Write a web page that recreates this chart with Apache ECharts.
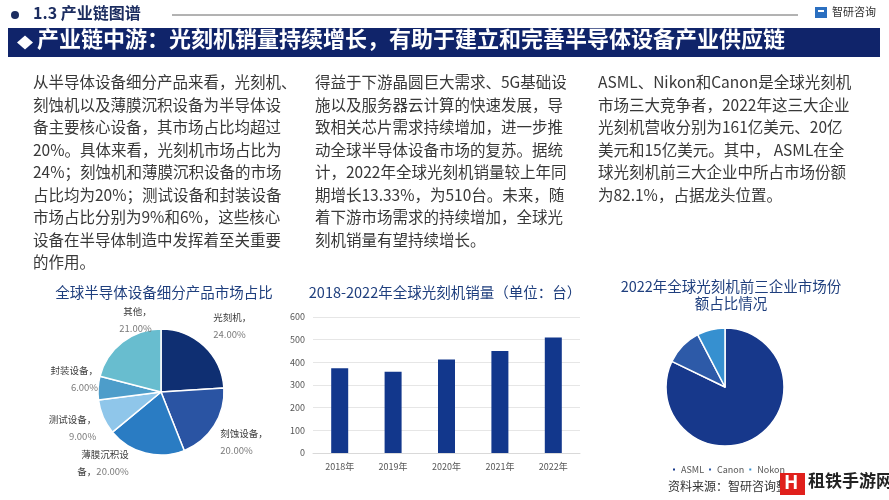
<!DOCTYPE html>
<html>
<head>
<meta charset="utf-8">
<script src="https://cdn.jsdelivr.net/npm/echarts@6/dist/echarts.min.js"></script>
<style>
html,body{margin:0;padding:0;background:#fff;}
#c{width:889px;height:500px;}
</style>
</head>
<body>
<div id="c"></div>
<script>
// ---- data ----
var segNames = ['光刻机', '刻蚀设备', '薄膜沉积设备', '测试设备', '封装设备', '其他'];
var segValues = [24, 20, 20, 9, 6, 21];
var segColors = ['#0f2f72', '#2a54a3', '#2a7cc3', '#8fc6ea', '#4d9dca', '#68bdcf'];

var years = ['2018年', '2019年', '2020年', '2021年', '2022年'];
var sales = [374, 359, 413, 450, 510];
var salesTicks = [0, 100, 200, 300, 400, 500, 600];

var firms = ['ASML', 'Canon', 'Nokon'];
var firmRevenue = [161, 20, 15];
var firmColors = ['#17388b', '#2d5aa8', '#3690d0'];

var textLeft = [
  '从半导体设备细分产品来看，光刻机、',
  '刻蚀机以及薄膜沉积设备为半导体设',
  '备主要核心设备，其市场占比均超过',
  '20%。具体来看，光刻机市场占比为',
  '24%；刻蚀机和薄膜沉积设备的市场',
  '占比均为20%；测试设备和封装设备',
  '市场占比分别为9%和6%，这些核心',
  '设备在半导体制造中发挥着至关重要',
  '的作用。'
];
var textMid = [
  '得益于下游晶圆巨大需求、5G基础设',
  '施以及服务器云计算的快速发展，导',
  '致相关芯片需求持续增加，进一步推',
  '动全球半导体设备市场的复苏。据统',
  '计，2022年全球光刻机销量较上年同',
  '期增长13.33%，为510台。未来，随',
  '着下游市场需求的持续增加，全球光',
  '刻机销量有望持续增长。'
];
var textRight = [
  'ASML、Nikon和Canon是全球光刻机',
  '市场三大竞争者，2022年这三大企业',
  '光刻机营收分别为161亿美元、20亿',
  '美元和15亿美元。其中， ASML在全',
  '球光刻机前三大企业中所占市场份额',
  '为82.1%，占据龙头位置。'
];

var FONT = '"Noto Sans CJK SC", "Noto Sans", sans-serif';
var chart = echarts.init(document.getElementById('c'));

// label nudges for the left pie (style only)
var labelNudge = [[0, -16], [-4, 13], [-10, 3], [-3, 4], [6, -9], [38, -18]];

function bodyText(x, lines) {
  return {
    type: 'text', left: x, top: 71,
    style: { text: lines.join('\n'), font: '15.5px ' + FONT, fill: '#383838', lineHeight: 22.5 }
  };
}

var option = {
  animation: false,
  backgroundColor: '#ffffff',
  textStyle: { fontFamily: FONT },
  title: [
    { text: '全球半导体设备细分产品市场占比', left: 159, top: 280, textAlign: 'center',
      textStyle: { fontSize: 14.5, fontWeight: 'normal', color: '#1f3f7e', fontFamily: FONT } },
    { text: '2018-2022年全球光刻机销量（单位：台）', left: 440, top: 280, textAlign: 'center',
      textStyle: { fontSize: 14.5, fontWeight: 'normal', color: '#1f3f7e', fontFamily: FONT } },
    { text: '2022年全球光刻机前三企业市场份\n额占比情况', left: 726, top: 273, textAlign: 'center',
      textStyle: { fontSize: 14.5, fontWeight: 'normal', color: '#1f3f7e', fontFamily: FONT, lineHeight: 17 } }
  ],
  legend: {
    data: firms, left: 666, top: 460, orient: 'horizontal',
    icon: 'rect', itemWidth: 4, itemHeight: 4, itemGap: 3,
    textStyle: { fontSize: 9, color: '#555', fontFamily: FONT }
  },
  grid: { left: 313, top: 317, width: 267, height: 136 },
  xAxis: {
    type: 'category', data: years,
    axisLine: { lineStyle: { color: '#d9d9d9' } }, axisTick: { show: false },
    axisLabel: { fontSize: 9, color: '#555', margin: 9 }
  },
  yAxis: {
    type: 'value', min: salesTicks[0], max: salesTicks[salesTicks.length - 1], interval: 100,
    axisLine: { show: false }, axisTick: { show: false },
    axisLabel: { fontSize: 9, color: '#555', margin: 8 },
    splitLine: { lineStyle: { color: '#e6e6e6' } }
  },
  series: [
    {
      type: 'pie', center: [161, 392], radius: 63, startAngle: 90, clockwise: true,
      itemStyle: { borderColor: '#fff', borderWidth: 1.5 },
      label: {
        position: 'outside', fontSize: 9.5, lineHeight: 17,
        formatter: function (p) {
          var n = p.name, pct = p.value.toFixed(2) + '%';
          if (n.length > 4) return '{n|' + n.slice(0, 5) + '}\n{n|' + n.slice(5) + '，}{p|' + pct + '}';
          return '{n|' + n + '，}\n{p|' + pct + '}';
        },
        rich: {
          n: { fontSize: 9.5, color: '#3c3c3c', lineHeight: 17 },
          p: { fontSize: 9.5, color: '#7a7a7a', lineHeight: 17 }
        }
      },
      labelLine: { show: false, length: 6, length2: 0 },
      labelLayout: function (p) {
        var o = labelNudge[p.dataIndex] || [0, 0];
        return { dx: o[0], dy: o[1] };
      },
      data: segNames.map(function (n, i) {
        return { name: n, value: segValues[i], itemStyle: { color: segColors[i] } };
      })
    },
    {
      type: 'bar', data: sales, barWidth: 17,
      itemStyle: { color: '#12378c' }
    },
    {
      type: 'pie', center: [725, 387], radius: 59, startAngle: 90, clockwise: true,
      itemStyle: { borderColor: '#fff', borderWidth: 1.5 },
      label: { show: false }, labelLine: { show: false },
      data: firms.map(function (n, i) {
        return { name: n, value: firmRevenue[i], itemStyle: { color: firmColors[i] } };
      })
    }
  ],
  graphic: [
    { type: 'circle', shape: { cx: 15, cy: 15, r: 4 }, style: { fill: '#1c2d60' } },
    { type: 'text', left: 33, top: 5, style: { text: '1.3 产业链图谱', font: 'bold 16px ' + FONT, fill: '#1c2d60' } },
    { type: 'line', shape: { x1: 172, y1: 15, x2: 798, y2: 15 }, style: { stroke: '#666', lineWidth: 1 } },
    { type: 'rect', shape: { x: 815, y: 7, width: 12, height: 11 }, style: { fill: '#2b6fc0' } },
    { type: 'rect', shape: { x: 818, y: 10, width: 6, height: 2 }, style: { fill: '#fff' } },
    { type: 'text', left: 832, top: 6, style: { text: '智研咨询', font: '11px ' + FONT, fill: '#333' } },
    { type: 'rect', shape: { x: 8, y: 28, width: 872, height: 29 }, style: { fill: '#10246a' } },
    { type: 'polygon', shape: { points: [[17, 42.5], [25, 35.5], [33, 42.5], [25, 49.5]] }, style: { fill: '#fff' } },
    { type: 'text', left: 37, top: 28, style: { text: '产业链中游：光刻机销量持续增长，有助于建立和完善半导体设备产业供应链', font: 'bold 22px ' + FONT, fill: '#fff' } },
    bodyText(33, textLeft),
    bodyText(315, textMid),
    bodyText(598, textRight),
    { type: 'text', left: 668, top: 480, style: { text: '资料来源：智研咨询整理', font: '12px ' + FONT, fill: '#333' } },
    { type: 'rect', shape: { x: 780, y: 473, width: 25, height: 22 }, style: { fill: '#e0201c' } },
    { type: 'text', left: 784, top: 472, style: { text: 'H', font: 'bold 19px ' + FONT, fill: '#fff' } },
    { type: 'text', left: 808, top: 472, style: { text: '租铁手游网', font: 'bold 17px ' + FONT, fill: '#222' } }
  ]
};
chart.setOption(option);
</script>
</body>
</html>
